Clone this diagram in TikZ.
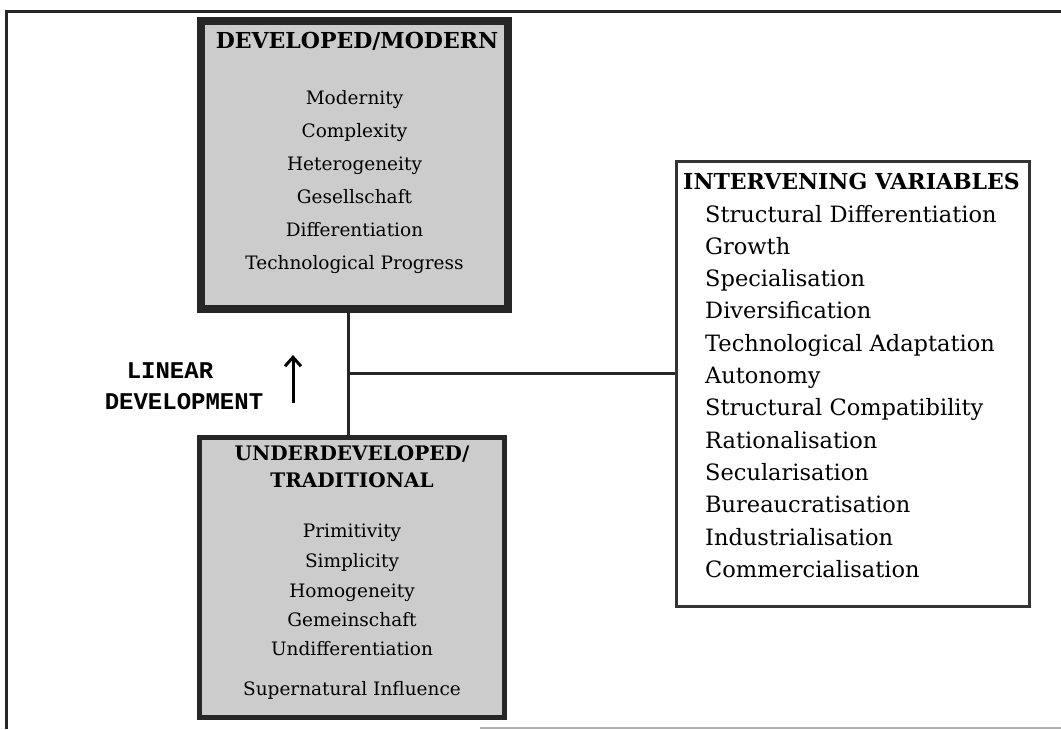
\documentclass[tikz,border=0pt]{standalone}
\usepackage{fontspec}
\setmainfont{DejaVu Serif}
\newfontfamily\lindevfont{Liberation Mono}
\usetikzlibrary{arrows.meta}

\tikzset{
  frameline/.style={line width=3.5pt, draw=black!85},
  shadebox/.style={draw=black!85, fill=black!20, rectangle, inner sep=0pt},
  listbox/.style={draw=black!80, fill=white, rectangle, line width=3pt, inner sep=0pt},
  link/.style={line width=3pt, draw=black!85},
  boxhead/.style={font=\fontsize{20}{24}\selectfont\bfseries, anchor=base, inner sep=0pt},
  boxitem/.style={font=\fontsize{18.5}{22}\selectfont, anchor=base, inner sep=0pt},
  varhead/.style={font=\fontsize{22}{26}\selectfont\bfseries, anchor=base west, inner sep=0pt},
  varitem/.style={font=\fontsize{22.5}{26}\selectfont, anchor=base west, inner sep=0pt},
  lindev/.style={font=\fontsize{24}{28}\lindevfont\bfseries, anchor=base, inner sep=0pt}
}

\begin{document}
\begin{tikzpicture}[x=1pt, y=-1pt]
\useasboundingbox (0,0) rectangle (1061,729);

% outer frame
\draw[frameline] (1061,11.5) -- (6.5,11.5) -- (6.5,729);
\draw[line width=2pt, draw=black!30] (480,728) -- (1061,728);

% developed / modern box
\node[shadebox, line width=8pt, minimum width=307pt, minimum height=288pt]
  (devbox) at (354.5,165) {};
\node[boxhead, font=\fontsize{22}{26}\selectfont\bfseries] (devhead) at (357,48) {DEVELOPED/MODERN};
\foreach \t [count=\i] in {Modernity, Complexity, Heterogeneity, Gesellschaft,
    Differentiation, Technological Progress}
  \node[boxitem] (dev\i) at (354.5,{104+33*(\i-1)}) {\t};

% underdeveloped / traditional box
\node[shadebox, line width=5pt, minimum width=305pt, minimum height=280pt]
  (undbox) at (352,577.5) {};
\node[boxhead] (undhead1) at (352,460) {UNDERDEVELOPED/};
\node[boxhead] (undhead2) at (352,487) {TRADITIONAL};
\foreach \t/\yb [count=\i] in {Primitivity/537, Simplicity/567, Homogeneity/597,
    Gemeinschaft/626, Undifferentiation/655, Supernatural Influence/695}
  \node[boxitem] (und\i) at (352,\yb) {\t};

% intervening variables box
\node[listbox, minimum width=353pt, minimum height=445pt] (varbox) at (853,384) {};
\node[varhead] (varhead) at (683,189) {INTERVENING VARIABLES};
\foreach \t [count=\i] in {Structural Differentiation, Growth, Specialisation,
    Diversification, Technological Adaptation, Autonomy, Structural Compatibility,
    Rationalisation, Secularisation, Bureaucratisation, Industrialisation,
    Commercialisation}
  \node[varitem] (var\i) at (705,{222+32.3*(\i-1)}) {\t};

% connectors
\coordinate (junction) at (348,373);
\draw[link] (devbox.south -| junction) -- (undbox.north -| junction);
\draw[link] (junction) -- (varbox.west |- junction);

% linear development label and arrow
\node[lindev] (linear) at (170,378) {LINEAR};
\node[lindev] (develop) at (184,409) {DEVELOPMENT};
\coordinate (arrowfoot) at (293,403);
\coordinate (arrowtip) at (293,355);
\draw[line width=3pt, -{Straight Barb[length=9pt, width=16pt, line width=3pt]}]
  (arrowfoot) -- (arrowtip);
\end{tikzpicture}
\end{document}
